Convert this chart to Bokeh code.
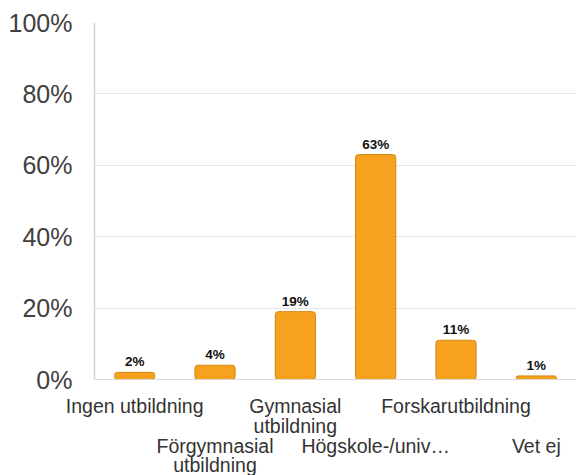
from bokeh.plotting import figure
from bokeh.models import ColumnDataSource, FixedTicker, PrintfTickFormatter, LinearAxis, Range1d
from bokeh.core.properties import value
from bokeh.embed import file_html
from bokeh.resources import INLINE

categories = ["Ingen utbildning", "Förgymnasial\nutbildning", "Gymnasial\nutbildning",
              "Högskole-/univ…", "Forskarutbildning", "Vet ej"]
values = [2, 4, 19, 63, 11, 1]
value_labels = ["2%", "4%", "19%", "63%", "11%", "1%"]
y_ticks = [0, 20, 40, 60, 80, 100]

positions = list(range(len(categories)))
lines = [c.split("\n") for c in categories]
row1_pos = positions[0::2]
row2_pos = positions[1::2]

source = ColumnDataSource(dict(x=positions, val=values, lab=value_labels))

FONT = "Liberation Sans"
LABEL_SIZE = "19.5px"

p = figure(x_range=Range1d(-0.5, len(categories) - 0.5), y_range=Range1d(0, 100),
           width=576, height=478, output_backend="svg", toolbar_location=None,
           min_border_left=94, min_border_right=0, min_border_top=22, min_border_bottom=0)
p.outline_line_color = None
p.background_fill_color = "white"
p.border_fill_color = "white"

p.vbar(x="x", top="val", width=0.5, source=source, fill_color="#F7A21E",
       line_color="#D4860F", line_width=1, border_radius=3)
p.text(x="x", y="val", text="lab", source=source, text_align="center",
       text_baseline="bottom", y_offset=-3, text_font=value(FONT),
       text_font_size="13.5px", text_font_style="bold", text_color="#111111")

# y axis
p.yaxis.ticker = FixedTicker(ticks=y_ticks)
p.yaxis.formatter = PrintfTickFormatter(format="%d%%")
p.yaxis.major_label_text_font = FONT
p.yaxis.major_label_text_font_size = "25px"
p.yaxis.major_label_text_color = "#404040"
p.yaxis.major_tick_line_color = None
p.yaxis.minor_tick_line_color = None
p.yaxis.axis_line_color = "#d4d4d4"
p.yaxis.axis_line_width = 1.5
p.yaxis.major_label_standoff = 16

p.ygrid.grid_line_color = "#e6e6e6"
p.xgrid.grid_line_color = None


def style_axis(ax, standoff):
    ax.major_label_text_font = FONT
    ax.major_label_text_font_size = LABEL_SIZE
    ax.major_label_text_color = "#333333"
    ax.major_tick_line_color = None
    ax.minor_tick_line_color = None
    ax.major_label_standoff = standoff


# row 1, first line
xa = p.xaxis[0]
xa.ticker = FixedTicker(ticks=row1_pos)
xa.major_label_overrides = {i: lines[i][0] for i in row1_pos}
style_axis(xa, 9)
xa.axis_line_color = "#d9d9d9"

# row 1, second line
r1b = [i for i in row1_pos if len(lines[i]) > 1]
xa1b = LinearAxis(ticker=FixedTicker(ticks=r1b),
                  major_label_overrides={i: lines[i][1] for i in r1b})
style_axis(xa1b, -11)
xa1b.axis_line_color = None
p.add_layout(xa1b, "below")

# row 2, first line
xa2 = LinearAxis(ticker=FixedTicker(ticks=row2_pos),
                 major_label_overrides={i: lines[i][0] for i in row2_pos})
style_axis(xa2, -11)
xa2.axis_line_color = None
p.add_layout(xa2, "below")

# row 2, second line
r2b = [i for i in row2_pos if len(lines[i]) > 1]
xa2b = LinearAxis(ticker=FixedTicker(ticks=r2b),
                  major_label_overrides={i: lines[i][1] for i in r2b})
style_axis(xa2b, -12)
xa2b.axis_line_color = None
p.add_layout(xa2b, "below")

open("out.html", "w").write(file_html(p, INLINE))
